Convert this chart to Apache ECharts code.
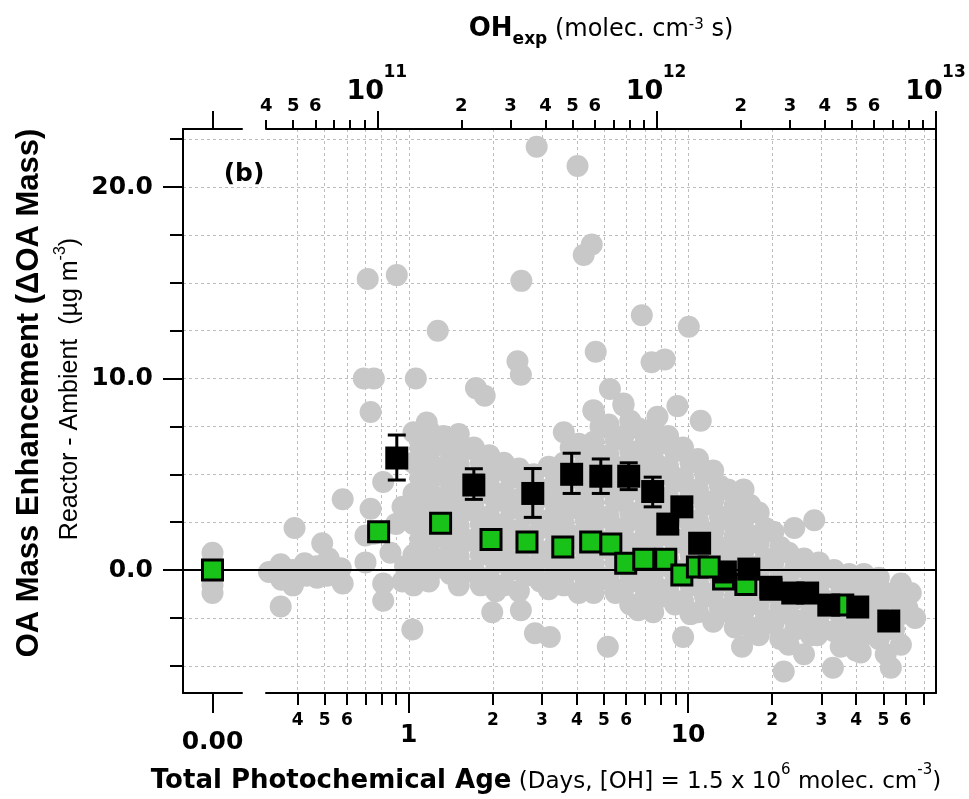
<!DOCTYPE html>
<html><head><meta charset="utf-8">
<script src="https://cdn.jsdelivr.net/npm/echarts@6/dist/echarts.min.js"></script>
<style>html,body{margin:0;padding:0;background:#fff}#c{width:969px;height:799px}</style>
</head><body><div id="c"></div>
<script>
// ---------------- data ----------------
// conversion between OH exposure and photochemical age (days)
const OH_CONC = 1.5e6;            // molec cm-3
const SEC_PER_DAY = 86400;
const OH_PER_DAY = OH_CONC * SEC_PER_DAY;
const OH_AXIS_MIN = 3.995e10, OH_AXIS_MAX = 1.0005e13;
const DAY_AXIS_MIN = OH_AXIS_MIN / OH_PER_DAY, DAY_AXIS_MAX = OH_AXIS_MAX / OH_PER_DAY;
const Y_MIN = -6.42, Y_MAX = 23.03;

// tick values
const dayMajorTicks = [1, 10];
const dayMinorTicks = [0.4,0.5,0.6,0.7,0.8,0.9,2,3,4,5,6,7,8,9,20,30,40,50,60,70];
const dayMinorLabels = [0.4,0.5,0.6,2,3,4,5,6,20,30,40,50,60];
const ohMajorTicks = [1e11, 1e12, 1e13];
const ohMinorTicks = [4e10,5e10,6e10,7e10,8e10,9e10,2e11,3e11,4e11,5e11,6e11,7e11,8e11,9e11,2e12,3e12,4e12,5e12,6e12,7e12,8e12,9e12];
const ohMinorLabels = [4e10,5e10,6e10,2e11,3e11,4e11,5e11,6e11,2e12,3e12,4e12,5e12,6e12];
const yMajorTicks = [0, 10, 20];
const yMinorTicks = [-5,-2.5,2.5,5,7.5,12.5,15,17.5,22.5];

// grey: individual reactor-ambient points  [days, ΔOA]
const greyZeroVals = [0.9, 0.4, -0.3, -0.8, -1.2];
const greyLeft = [[0.316,-0.1],[0.348,0.3],[0.35,-0.5],[0.384,0.0],[0.385,-0.8],[0.424,0.35],[0.43,-0.3],[0.468,0.2],[0.47,-0.4],[0.517,0.6],[0.51,-0.3],[0.571,0.1],[0.58,-0.7],[0.39,2.2],[0.348,-1.9],[0.49,1.4],[0.58,3.7],
  [0.70,0.4],[0.73,3.2],[0.75,1.9],[0.81,4.6],[0.81,-0.7],[0.81,-1.6],[0.86,0.9],[0.97,0.2],[0.95,3.3],[0.70,1.8],[0.9,2.4],[0.95,-0.6]];
const greyOutliers = [[0.713,15.2],[0.906,15.4],[0.69,10.0],[0.75,10.0],[1.06,10.0],[1.27,12.5],[0.73,8.25],[1.16,7.7],[1.74,9.5],[1.87,9.1],[2.87,22.1],[4.02,21.1],[4.52,17.0],[4.23,16.45],[2.53,15.1],[6.83,13.3],[10.06,12.7],[4.67,11.4],[2.45,10.9],[2.52,10.2],[7.4,10.85],[8.25,11.0],[5.25,9.45],[4.58,8.35],[5.87,8.7],[9.16,8.56],[7.77,8.0],[1.03,-3.1]];
const greyMainA = [
 [1.04,7.2],[1.10,6.4],[1.04,5.6],[1.10,4.8],[1.04,4.0],[1.10,3.2],[1.04,2.4],[1.10,1.6],[1.04,0.8],[1.10,0.0],[1.04,-0.8],
 [1.18,7.3],[1.25,6.5],[1.18,5.7],[1.25,4.9],[1.18,4.1],[1.25,3.3],[1.18,2.5],[1.25,1.7],[1.18,0.9],[1.25,0.1],[1.18,-0.6],
 [1.33,7.0],[1.41,6.2],[1.33,5.4],[1.41,4.6],[1.33,3.8],[1.41,3.0],[1.33,2.2],[1.41,1.4],[1.33,0.6],[1.41,-0.2],
 [1.51,7.1],[1.60,6.3],[1.51,5.5],[1.60,4.7],[1.51,3.9],[1.60,3.1],[1.51,2.3],[1.60,1.5],[1.51,0.7],[1.60,-0.1],[1.51,-0.8],
 [1.71,6.4],[1.81,5.6],[1.71,4.8],[1.81,4.0],[1.71,3.2],[1.81,2.4],[1.71,1.6],[1.81,0.8],[1.71,0.0],[1.81,-0.8],
 [1.94,6.0],[2.05,5.2],[1.94,4.4],[2.05,3.6],[1.94,2.8],[2.05,2.0],[1.94,1.2],[2.05,0.4],[1.94,-0.4],[2.05,-1.1],[1.99,-2.2],
 [2.19,5.6],[2.32,4.8],[2.19,4.0],[2.32,3.2],[2.19,2.4],[2.32,1.6],[2.19,0.8],[2.32,0.0],[2.19,-0.8],
 [2.48,5.3],[2.62,4.5],[2.48,3.7],[2.62,2.9],[2.48,2.1],[2.62,1.3],[2.48,0.5],[2.62,-0.3],[2.48,-1.1],[2.52,-2.1],
 [2.80,5.0],[2.96,4.2],[2.80,3.4],[2.96,2.6],[2.80,1.8],[2.96,1.0],[2.80,0.2],[2.96,-0.6],[2.83,-3.3],
 [3.17,5.4],[3.35,4.6],[3.17,3.8],[3.35,3.0],[3.17,2.2],[3.35,1.4],[3.17,0.6],[3.35,-0.2],[3.17,-1.0],[3.2,-3.5]];
const greyMainB = [
 [3.59,7.2],[3.80,6.4],[3.59,5.6],[3.80,4.8],[3.59,4.0],[3.80,3.2],[3.59,2.4],[3.80,1.6],[3.59,0.8],[3.80,0.0],[3.59,-0.8],
 [4.06,6.6],[4.30,5.8],[4.06,5.0],[4.30,4.2],[4.06,3.4],[4.30,2.6],[4.06,1.8],[4.30,1.0],[4.06,0.2],[4.30,-0.6],[4.06,-1.2],
 [4.59,8.3],[4.86,7.5],[4.59,6.7],[4.86,5.9],[4.59,5.1],[4.86,4.3],[4.59,3.5],[4.86,2.7],[4.59,1.9],[4.86,1.1],[4.59,0.3],[4.86,-0.5],[4.59,-1.2],
 [5.19,7.6],[5.50,6.8],[5.19,6.0],[5.50,5.2],[5.19,4.4],[5.50,3.6],[5.19,2.8],[5.50,2.0],[5.19,1.2],[5.50,0.4],[5.19,-0.4],[5.50,-1.2],[5.16,-4.0],
 [5.87,8.6],[6.21,7.8],[5.87,7.0],[6.21,6.2],[5.87,5.4],[6.21,4.6],[5.87,3.8],[6.21,3.0],[5.87,2.2],[6.21,1.4],[5.87,0.6],[6.21,-0.2],[5.87,-1.0],[6.21,-1.8],
 [6.63,7.4],[7.02,6.6],[6.63,5.8],[7.02,5.0],[6.63,4.2],[7.02,3.4],[6.63,2.6],[7.02,1.8],[6.63,1.0],[7.02,0.2],[6.63,-0.6],[7.02,-1.4],[6.63,-2.1],
 [7.50,7.4],[7.94,6.6],[7.50,5.8],[7.94,5.0],[7.50,4.2],[7.94,3.4],[7.50,2.6],[7.94,1.8],[7.50,1.0],[7.94,0.2],[7.50,-0.6],[7.94,-1.4],[7.50,-2.2],
 [8.48,7.0],[8.98,6.2],[8.48,5.4],[8.98,4.6],[8.48,3.8],[8.98,3.0],[8.48,2.2],[8.98,1.4],[8.48,0.6],[8.98,-0.2],[8.48,-1.0],[8.98,-1.8],
 [9.59,6.4],[10.2,5.6],[9.59,4.8],[10.2,4.0],[9.59,3.2],[10.2,2.4],[9.59,1.6],[10.2,0.8],[9.59,0.0],[10.2,-0.8],[9.59,-1.6],[10.2,-2.3],[9.6,-3.5],
 [11.1,7.8],[10.85,5.8],[11.5,5.0],[10.85,4.2],[11.5,3.4],[10.85,2.6],[11.5,1.8],[10.85,1.0],[11.5,0.2],[10.85,-0.6],[11.5,-1.4],[10.85,-2.2]];
const greyMainC = [
 [12.3,5.2],[13.0,4.4],[12.3,3.6],[13.0,2.8],[12.3,2.0],[13.0,1.2],[12.3,0.4],[13.0,-0.4],[12.3,-1.2],[13.0,-2.0],[12.3,-2.7],
 [13.9,4.2],[14.7,3.4],[13.9,2.6],[14.7,1.8],[13.9,1.0],[14.7,0.2],[13.9,-0.6],[14.7,-1.4],[13.9,-2.2],[14.7,-3.0],
 [15.8,4.2],[16.7,3.4],[15.8,2.6],[16.7,1.8],[15.8,1.0],[16.7,0.2],[15.8,-0.6],[16.7,-1.4],[15.8,-2.2],[16.7,-3.0],[15.6,-4.0],
 [17.9,3.0],[18.9,2.2],[17.9,1.4],[18.9,0.6],[17.9,-0.2],[18.9,-1.0],[17.9,-1.8],[18.9,-2.6],[17.9,-3.4],
 [20.2,2.0],[21.4,1.2],[20.2,0.4],[21.4,-0.4],[20.2,-1.2],[21.4,-2.0],[20.2,-2.8],[21.4,-3.6],[22.0,-5.3],
 [24.0,2.2],[22.9,0.9],[24.2,0.1],[22.9,-0.7],[24.2,-1.5],[22.9,-2.3],[24.2,-3.1],[22.9,-3.9],
 [28.3,2.6],[26.0,0.6],[27.5,-0.2],[26.0,-1.0],[27.5,-1.8],[26.0,-2.6],[27.5,-3.4],[26.0,-4.4],
 [29.4,0.4],[31.1,-0.4],[29.4,-1.2],[31.1,-2.0],[29.4,-2.8],[29.0,-3.4],
 [33.3,0.0],[35.2,-0.8],[33.3,-1.6],[35.2,-2.4],[33.3,-3.2],[35.2,-4.0],[33.0,-5.1],
 [37.7,-0.2],[39.9,-1.0],[37.7,-1.8],[39.9,-2.6],[37.7,-3.4],[39.9,-4.2],
 [42.6,-0.2],[45.1,-1.0],[42.6,-1.8],[45.1,-2.6],[42.6,-3.4],[41.5,-4.3],
 [48.2,-0.4],[51.0,-1.2],[48.2,-2.0],[51.0,-2.8],[48.2,-3.6],[51.0,-4.4],
 [57.8,-0.7],[54.6,-1.5],[57.8,-2.3],[54.6,-3.1],[57.8,-3.9],[53.2,-5.1],
 [62.7,-1.2],[61.0,-2.0],[65.0,-2.5]];

// black: binned averages with error bars
const blackDays = [0.906,1.71,2.78,3.83,4.87,6.13,7.47,8.46,9.5,11.0,13.6,16.5,19.8,23.7,26.8,31.9,40.5,52.3];
const blackVals = [5.85,4.44,4.0,5.0,4.9,4.9,4.1,2.4,3.3,1.4,-0.1,0.05,-0.9,-1.2,-1.2,-1.83,-1.93,-2.66];
const blackErrHi = [1.2,0.85,1.3,1.1,0.9,0.7,0.75,0.4,0.4,0.4,0.3,0.3,0.3,0.3,0.3,0.3,0.3,0.3];
const blackErrLo = [1.15,0.75,1.25,1.0,0.9,0.7,0.8,0.4,0.4,0.4,0.3,0.3,0.3,0.3,0.3,0.3,0.3,0.3];

// green: binned averages
const greenZeroVal = 0;
const greenDays = [0.78,1.30,1.97,2.65,3.56,4.48,5.29,5.98,6.94,8.32,9.5,10.8,11.9,13.4,16.1,19.8,35.8];
const greenVals = [2.0,2.45,1.6,1.47,1.2,1.47,1.36,0.36,0.57,0.57,-0.26,0.16,0.16,-0.47,-0.75,-1.0,-1.83];

// ---------------- chart ----------------
const GREY = '#c8c8c8';
const GREEN = '#18c218';
const GRID_C = '#bdbdbd';
const FB = 'DejaVu Sans';
const axisLineStyle = {color:'#000', width:2};
const dashed = {show:true, lineStyle:{color:GRID_C, width:1, type:[3,3]}};
const lead = v => Math.round(v / Math.pow(10, Math.floor(Math.log10(v) + 1e-9)));

const greenPairs = greenDays.map((d,i)=>[d, greenVals[i]]);
const greenLow = greenPairs.filter(p => p[0] >= 13);
const greenHigh = greenPairs.filter(p => p[0] < 13);

const greyStyle = {color:GREY, opacity:1};
const greenStyle = {color:GREEN, borderColor:'#000', borderWidth:3, opacity:1};

const chart = echarts.init(document.getElementById('c'), null, {renderer:'canvas'});
chart.setOption({
  animation:false,
  backgroundColor:'#fff',
  grid:[
    {left:183, top:129, width:753, height:564},
    {left:183, top:129, width:59, height:564},
    {left:266, top:129, width:670, height:564}
  ],
  xAxis:[
    // 0: zero line across whole plot
    {gridIndex:0, type:'value', min:0, max:1, z:3,
      axisLine:{show:true, onZero:true, lineStyle:{color:'#000', width:2}},
      axisTick:{show:false}, axisLabel:{show:false}, splitLine:{show:false}},
    // 1: 0.00 segment bottom
    {gridIndex:1, type:'value', min:-1, max:1, position:'bottom',
      axisLine:{show:true, onZero:false, lineStyle:axisLineStyle},
      axisTick:{show:true, customValues:[0], length:20, lineStyle:{width:2,color:'#000'}},
      axisLabel:{show:true, customValues:[0], margin:37, formatter:()=> '0.00',
        fontFamily:FB, fontWeight:'bold', fontSize:25, color:'#000'},
      splitLine:{show:false}},
    // 2: 0.00 segment top
    {gridIndex:1, type:'value', min:-1, max:1, position:'top',
      axisLine:{show:true, onZero:false, lineStyle:axisLineStyle},
      axisTick:{show:true, customValues:[0], length:18, lineStyle:{width:2,color:'#000'}},
      axisLabel:{show:false}, splitLine:{show:false}},
    // 3: days major (bottom)
    {gridIndex:2, type:'log', logBase:10, min:DAY_AXIS_MIN, max:DAY_AXIS_MAX, position:'bottom',
      axisLine:{show:true, onZero:false, lineStyle:axisLineStyle},
      axisTick:{show:true, customValues:dayMajorTicks, length:20, lineStyle:{width:2,color:'#000'}},
      axisLabel:{show:true, customValues:dayMajorTicks, margin:30, formatter:v=>String(Math.round(v)),
        fontFamily:FB, fontWeight:'bold', fontSize:25, color:'#000'},
      splitLine:dashed},
    // 4: days minor (bottom)
    {gridIndex:2, type:'log', logBase:10, min:DAY_AXIS_MIN, max:DAY_AXIS_MAX, position:'bottom',
      axisLine:{show:false, onZero:false},
      axisTick:{show:true, customValues:dayMinorTicks, length:12, lineStyle:{width:2,color:'#000'}},
      axisLabel:{show:true, customValues:dayMinorLabels, margin:19, formatter:v=>String(lead(v)),
        fontFamily:FB, fontWeight:'bold', fontSize:17, color:'#000'},
      splitLine:dashed},
    // 5: OH exposure major (top) – mantissa "10"
    {gridIndex:2, type:'log', logBase:10, min:OH_AXIS_MIN, max:OH_AXIS_MAX, position:'top',
      axisLine:{show:true, onZero:false, lineStyle:axisLineStyle},
      axisTick:{show:true, customValues:ohMajorTicks, length:18, lineStyle:{width:2,color:'#000'}},
      axisLabel:{show:true, customValues:ohMajorTicks, margin:24,
        formatter:()=>'{a|10}',
        rich:{a:{fontFamily:FB, fontWeight:'bold', fontSize:27, color:'#000', padding:[0,24,0,0]}}},
      splitLine:{show:false}},
    // 6: OH exposure minor (top)
    {gridIndex:2, type:'log', logBase:10, min:OH_AXIS_MIN, max:OH_AXIS_MAX, position:'top',
      axisLine:{show:false, onZero:false},
      axisTick:{show:true, customValues:ohMinorTicks, length:9, lineStyle:{width:2,color:'#000'}},
      axisLabel:{show:true, customValues:ohMinorLabels, margin:14, formatter:v=>String(lead(v)),
        fontFamily:FB, fontWeight:'bold', fontSize:18, color:'#000'},
      splitLine:{show:false}},
    // 7: OH exposure major (top) – exponent
    {gridIndex:2, type:'log', logBase:10, min:OH_AXIS_MIN, max:OH_AXIS_MAX, position:'top',
      axisLine:{show:false, onZero:false}, axisTick:{show:false},
      axisLabel:{show:true, customValues:ohMajorTicks, margin:48,
        formatter:v=>'{s|' + Math.round(Math.log10(v)) + '}',
        rich:{s:{fontFamily:FB, fontWeight:'bold', fontSize:17, color:'#000', padding:[0,0,0,36]}}},
      splitLine:{show:false}}
  ],
  yAxis:[
    // 0: left major
    {gridIndex:0, type:'value', min:Y_MIN, max:Y_MAX, position:'left',
      axisLine:{show:true, onZero:false, lineStyle:axisLineStyle},
      axisTick:{show:true, customValues:yMajorTicks, length:20, lineStyle:{width:2,color:'#000'}},
      axisLabel:{show:true, customValues:yMajorTicks, margin:30, formatter:v=>v.toFixed(1),
        fontFamily:FB, fontWeight:'bold', fontSize:25, color:'#000'},
      splitLine:dashed},
    // 1: left minor
    {gridIndex:0, type:'value', min:Y_MIN, max:Y_MAX, position:'left',
      axisLine:{show:false, onZero:false},
      axisTick:{show:true, customValues:yMinorTicks, length:13, lineStyle:{width:2,color:'#000'}},
      axisLabel:{show:false},
      splitLine:dashed},
    // 2: right frame
    {gridIndex:0, type:'value', min:Y_MIN, max:Y_MAX, position:'right',
      axisLine:{show:true, onZero:false, lineStyle:axisLineStyle},
      axisTick:{show:false}, axisLabel:{show:false}, splitLine:{show:false}},
    // 3: grid1 hidden
    {gridIndex:1, type:'value', min:Y_MIN, max:Y_MAX, show:false},
    // 4: grid2 hidden
    {gridIndex:2, type:'value', min:Y_MIN, max:Y_MAX, show:false}
  ],
  series:[
    {type:'scatter', xAxisIndex:1, yAxisIndex:3, z:2, silent:true, clip:false,
      symbol:'circle', symbolSize:22, itemStyle:greyStyle,
      data:greyZeroVals.map(v=>[0,v])},
    {type:'scatter', xAxisIndex:3, yAxisIndex:4, z:2, silent:true, clip:false,
      symbol:'circle', symbolSize:22, itemStyle:greyStyle,
      data:[].concat(greyLeft, greyMainA, greyMainB, greyMainC, greyOutliers)},
    {type:'custom', xAxisIndex:3, yAxisIndex:4, z:4, silent:true,
      data:blackDays.map((d,i)=>[d, blackVals[i]-blackErrLo[i], blackVals[i]+blackErrHi[i]]),
      renderItem:(params, api)=>{
        const x = api.value(0);
        const lo = api.coord([x, api.value(1)]);
        const hi = api.coord([x, api.value(2)]);
        const cap = 9, st = {stroke:'#000', lineWidth:3};
        return {type:'group', children:[
          {type:'line', shape:{x1:lo[0], y1:lo[1], x2:hi[0], y2:hi[1]}, style:st},
          {type:'line', shape:{x1:lo[0]-cap, y1:lo[1], x2:lo[0]+cap, y2:lo[1]}, style:st},
          {type:'line', shape:{x1:hi[0]-cap, y1:hi[1], x2:hi[0]+cap, y2:hi[1]}, style:st}
        ]};
      }},
    {type:'scatter', xAxisIndex:3, yAxisIndex:4, z:5, silent:true, clip:false,
      symbol:'rect', symbolSize:20, itemStyle:greenStyle, data:greenLow},
    {type:'scatter', xAxisIndex:3, yAxisIndex:4, z:6, silent:true, clip:false,
      symbol:'rect', symbolSize:23, itemStyle:{color:'#000', opacity:1},
      data:blackDays.map((d,i)=>[d, blackVals[i]])},
    {type:'scatter', xAxisIndex:3, yAxisIndex:4, z:7, silent:true, clip:false,
      symbol:'rect', symbolSize:20, itemStyle:greenStyle, data:greenHigh},
    {type:'scatter', xAxisIndex:1, yAxisIndex:3, z:7, silent:true, clip:false,
      symbol:'rect', symbolSize:20, itemStyle:greenStyle, data:[[0, greenZeroVal]]}
  ],
  graphic:[
    {type:'text', x:601, y:33, z:10, style:{
      text:'{b|OH}{sub|exp}{r| (molec. cm}{sup|-3}{r| s)}',
      align:'center', verticalAlign:'middle', textAlign:'center', textVerticalAlign:'middle',
      rich:{
        b:{fontFamily:FB, fontWeight:'bold', fontSize:26, lineHeight:30, verticalAlign:'bottom', padding:[0,0,6,0], fill:'#000', color:'#000'},
        sub:{fontFamily:FB, fontWeight:'bold', fontSize:17, lineHeight:17, verticalAlign:'bottom', fill:'#000', color:'#000'},
        r:{fontFamily:FB, fontSize:24, lineHeight:28, verticalAlign:'bottom', padding:[0,0,6,0], fill:'#000', color:'#000'},
        sup:{fontFamily:FB, fontSize:15, lineHeight:15, verticalAlign:'top', fill:'#000', color:'#000'}
      }}},
    {type:'text', x:546, y:777, z:10, style:{
      text:'{b|Total Photochemical Age}{r| (Days, [OH] = 1.5 x 10}{sup|6}{r| molec. cm}{sup|-3}{r|)}',
      align:'center', verticalAlign:'middle', textAlign:'center', textVerticalAlign:'middle',
      rich:{
        b:{fontFamily:FB, fontWeight:'bold', fontSize:26, lineHeight:34, verticalAlign:'bottom', fill:'#000', color:'#000'},
        r:{fontFamily:FB, fontSize:23, lineHeight:32, verticalAlign:'bottom', fill:'#000', color:'#000'},
        sup:{fontFamily:FB, fontSize:15, lineHeight:15, verticalAlign:'top', padding:[3,0,0,0], fill:'#000', color:'#000'}
      }}},
    {type:'text', x:29, y:393, rotation:Math.PI/2, z:10, style:{
      text:'OA Mass Enhancement (ΔOA Mass)',
      font:'bold 31px "Liberation Sans", Arial, sans-serif', fill:'#000',
      align:'center', verticalAlign:'middle', textAlign:'center', textVerticalAlign:'middle'}},
    {type:'text', x:68, y:389, rotation:Math.PI/2, z:10, style:{
      text:'{r|Reactor - Ambient  (µg m}{sup|-3}{r|)}',
      align:'center', verticalAlign:'middle', textAlign:'center', textVerticalAlign:'middle',
      rich:{
        r:{fontFamily:'Liberation Sans', fontSize:25, lineHeight:30, verticalAlign:'bottom', fill:'#000', color:'#000'},
        sup:{fontFamily:'Liberation Sans', fontSize:16, lineHeight:16, verticalAlign:'top', fill:'#000', color:'#000'}
      }}},
    {type:'text', x:244, y:174, z:10, style:{
      text:'(b)', font:'bold 25px "DejaVu Sans", sans-serif', fill:'#000',
      align:'center', verticalAlign:'middle', textAlign:'center', textVerticalAlign:'middle'}}
  ]
});
</script></body></html>
